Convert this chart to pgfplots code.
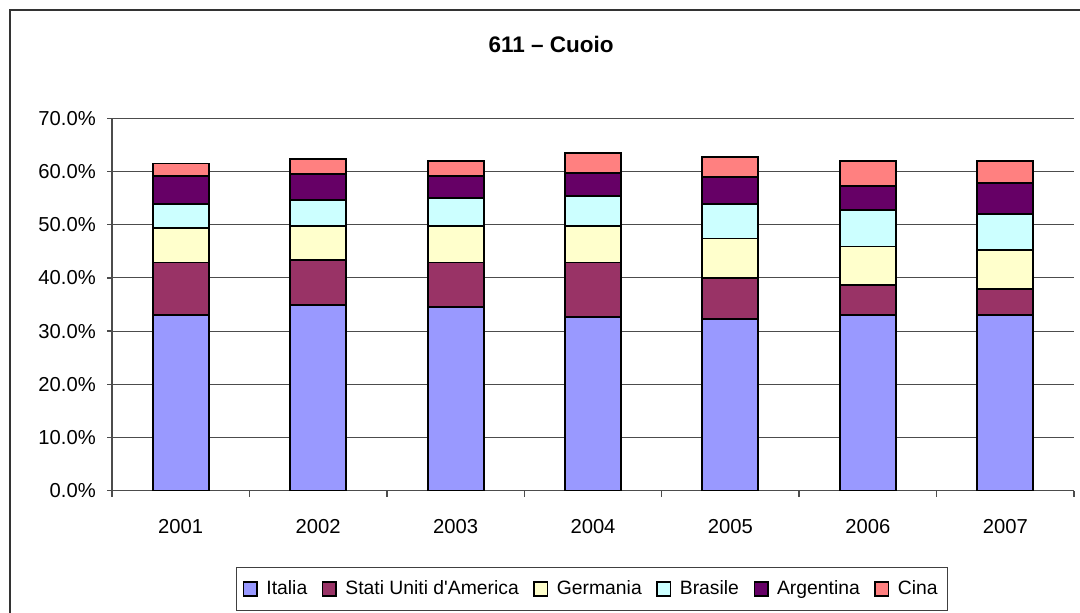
\documentclass[border=0pt]{standalone}
\usepackage{fontspec}
\setmainfont{Liberation Sans}
\usepackage{pgfplots}
\pgfplotsset{compat=1.18}
\definecolor{cIt}{HTML}{9999FF}
\definecolor{cUS}{HTML}{993366}
\definecolor{cGe}{HTML}{FFFFCC}
\definecolor{cBr}{HTML}{CCFFFF}
\definecolor{cAr}{HTML}{660066}
\definecolor{cCi}{HTML}{FF8080}
\begin{document}
\begin{tikzpicture}[x=1cm,y=1cm]
\path[use as bounding box] (0,0) rectangle (21.6,12.24);
\draw[black!80, line width=0.6pt] (0.2,-1) -- (0.2,12.04) -- (23,12.04);
\node[font=\bfseries\fontsize{12.8}{15}\selectfont] at (11.02,11.36) {611 – Cuoio};
\begin{axis}[
  at={(2.24cm,2.426cm)}, anchor=south west,
  width=19.24cm, height=7.448cm, scale only axis,
  ybar stacked, bar width=1.12cm,
  xmin=-0.5, xmax=6.5, ymin=0, ymax=70,
  xtick={0,...,6},
  xticklabels={2001,2002,2003,2004,2005,2006,2007},
  minor xtick={-0.5,0.5,...,6.5},
  major x tick style={draw=none},
  ytick={0,10,...,70},
  ymajorgrids, grid style={black!70, line width=0.6pt},
  axis x line*=bottom, axis y line*=left,
  axis line style={black!70, line width=0.8pt},
  tick style={black!70, line width=0.8pt},
  tick align=outside,
  minor tick length=0.12cm, major tick length=0.1cm,
  /pgf/number format/assume math mode=true,
  yticklabel={\pgfmathprintnumber[fixed,fixed zerofill,precision=1]{\tick}\%},
  ticklabel style={font=\fontsize{11.5}{13}\selectfont},
  yticklabel style={xshift=-0.1cm},
  xticklabel style={yshift=-0.35cm},
  legend columns=6,
  legend style={at={(0.499,-0.264)}, anchor=center, draw=black!75, line width=0.6pt,
    font=\fontsize{11}{13}\selectfont, inner xsep=0.12cm, inner ysep=0.2cm,
    /tikz/every odd column/.append style={column sep=0.1cm},
    /tikz/every even column/.append style={column sep=0.22cm}},
  legend image code/.code={\draw[#1, draw=black, line width=0.9pt] (0cm,-0.14cm) rectangle (0.27cm,0.14cm);},
  every axis plot/.append style={draw=black, line width=1.1pt},
]
\addplot[fill=cIt] coordinates {(0,33.0) (1,34.9) (2,34.6) (3,32.7) (4,32.3) (5,33.0) (6,33.0)};
\addplot[fill=cUS] coordinates {(0,9.9) (1,8.4) (2,8.3) (3,10.2) (4,7.6) (5,5.7) (6,5.0)};
\addplot[fill=cGe] coordinates {(0,6.5) (1,6.4) (2,6.8) (3,6.8) (4,7.5) (5,7.2) (6,7.2)};
\addplot[fill=cBr] coordinates {(0,4.5) (1,4.9) (2,5.3) (3,5.7) (4,6.5) (5,6.8) (6,6.8)};
\addplot[fill=cAr] coordinates {(0,5.3) (1,5.0) (2,4.2) (3,4.3) (4,5.0) (5,4.6) (6,5.8)};
\addplot[fill=cCi] coordinates {(0,2.3) (1,2.7) (2,2.7) (3,3.7) (4,3.8) (5,4.6) (6,4.1)};
\legend{Italia, Stati Uniti d\textquotesingle America, Germania, Brasile, Argentina, Cina}
\end{axis}
\end{tikzpicture}
\end{document}
